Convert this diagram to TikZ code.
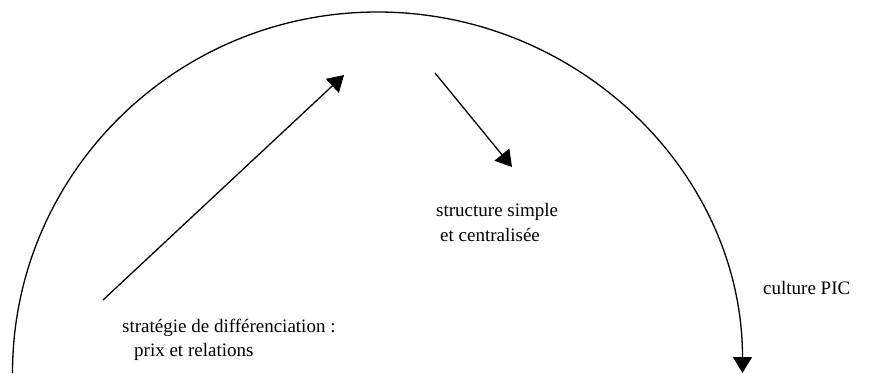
\documentclass[tikz,border=0pt]{standalone}
\usepackage{fontspec}
\setmainfont{Liberation Serif}
\usetikzlibrary{arrows.meta}
\begin{document}
\begin{tikzpicture}[x=1pt,y=-1pt,
  lbl/.style={inner sep=0pt,anchor=west,font=\fontsize{19}{23}\selectfont,align=left},
  conn/.style={line width=1.3pt,-{Triangle[length=16pt,width=19pt]}}]
\useasboundingbox (0,0) rectangle (874,373);
\fill[white] (0,0) rectangle (874,373);
% big arc
\coordinate (arcL) at (12.5,373);
\draw[conn] (arcL) arc[start angle=180,end angle=360,x radius=365,y radius=361];
% arrows
\coordinate (a1s) at (103,300);
\coordinate (a1e) at (344,75);
\coordinate (a2s) at (435,73);
\coordinate (a2e) at (512,167);
\draw[conn] (a1s) -- (a1e);
\draw[conn] (a2s) -- (a2e);
% labels
\node[lbl] (strat) at (122,328) {stratégie de différenciation :};
\node[lbl] (prix) at (134,352) {prix et relations};
\node[lbl] (struct) at (436,212) {structure simple};
\node[lbl] (centr) at (440,235) {et centralisée};
\node[lbl] (cult) at (763,288) {culture PIC};
\end{tikzpicture}
\end{document}
